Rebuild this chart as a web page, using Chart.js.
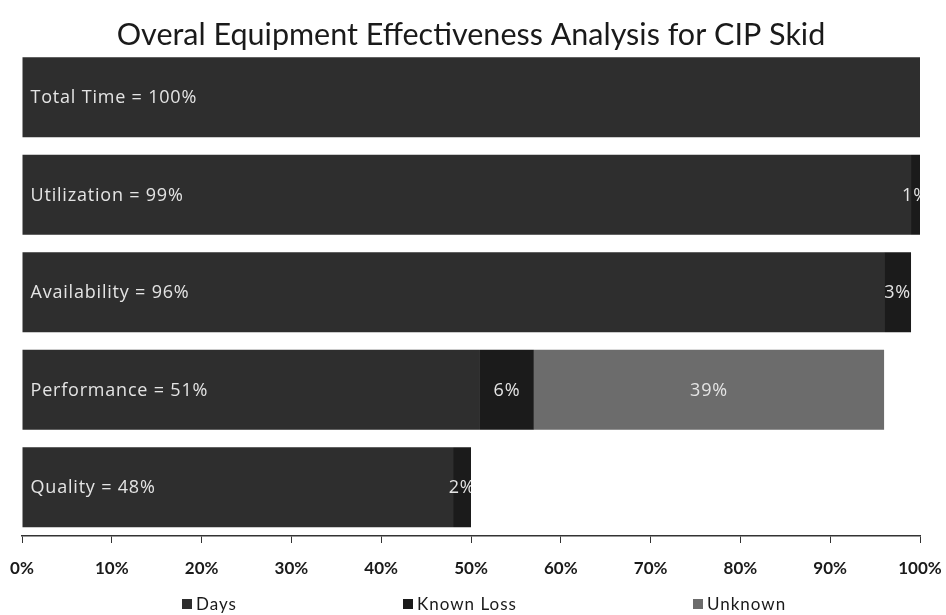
<!DOCTYPE html>
<html>
<head>
<meta charset="utf-8">
<title>Overal Equipment Effectiveness Analysis for CIP Skid</title>
<script src="https://cdn.jsdelivr.net/npm/chart.js@4/dist/chart.umd.min.js"></script>
<style>
  html, body { margin: 0; padding: 0; background: #ffffff; }
  #wrap { width: 946px; height: 615px; position: relative; }
</style>
</head>
<body>
<div id="wrap"><canvas id="oee"></canvas></div>
<script>
// Stages of the OEE breakdown, top to bottom
const categories = ['Total Time', 'Utilization', 'Availability', 'Performance', 'Quality'];

// Share of total time (%) for each part of every stage
const days      = [100, 99, 96, 51, 48];
const knownLoss = [null, 1, 3, 6, 2];
const unknown   = [null, null, null, 39, null];

const seriesNames = ['Days', 'Known Loss', 'Unknown'];
const xTicks = [0, 10, 20, 30, 40, 50, 60, 70, 80, 90, 100];

const FONT = 'Lato, "Open Sans", "Liberation Sans", sans-serif';
const LABEL_FONT = '"Open Sans", Lato, "Liberation Sans", sans-serif';
const fills = ['#2e2e2e', '#1b1b1b', '#6c6c6c'];

// Text inside the bars: stage name on the first segment, percentages on the others
const barLabels = {
  id: 'barLabels',
  afterDatasetsDraw(chart) {
    const ctx = chart.ctx;
    const area = chart.chartArea;
    ctx.save();
    ctx.font = '18px ' + LABEL_FONT;
    ctx.letterSpacing = '0.8px';
    ctx.fillStyle = '#e4e4e4';
    ctx.textBaseline = 'middle';
    chart.data.datasets.forEach((ds, di) => {
      const meta = chart.getDatasetMeta(di);
      meta.data.forEach((bar, i) => {
        const v = ds.data[i];
        if (v == null) return;
        const left = Math.min(bar.base, bar.x);
        const right = Math.max(bar.base, bar.x);
        if (di === 0) {
          ctx.textAlign = 'left';
          ctx.fillText(chart.data.labels[i] + ' = ' + v + '%', left + 8, bar.y + 1);
        } else {
          // centred on the segment, cut off where the bar ends
          ctx.save();
          ctx.beginPath();
          ctx.rect(area.left, bar.y - bar.height / 2, right - area.left, bar.height);
          ctx.clip();
          ctx.textAlign = 'center';
          ctx.fillText(v + '%', (left + right) / 2, bar.y + 1);
          ctx.restore();
        }
      });
    });
    ctx.letterSpacing = '0px';
    ctx.restore();
  }
};

// Legend row under the axis, items spread across the width
const spreadLegend = {
  id: 'spreadLegend',
  afterDraw(chart) {
    const ctx = chart.ctx;
    const xs = [182, 403, 693];
    const y = 604;
    ctx.save();
    ctx.font = '17px ' + FONT;
    ctx.letterSpacing = '1px';
    ctx.textBaseline = 'middle';
    ctx.textAlign = 'left';
    chart.data.datasets.forEach((ds, di) => {
      ctx.fillStyle = ds.backgroundColor;
      ctx.fillRect(xs[di], y - 5, 10, 10);
      ctx.fillStyle = '#1a1a1a';
      ctx.fillText(ds.label, xs[di] + 14, y + 1);
    });
    ctx.letterSpacing = '0px';
    ctx.restore();
  }
};

new Chart(document.getElementById('oee'), {
  type: 'bar',
  data: {
    labels: categories,
    datasets: [
      { label: seriesNames[0], data: days, backgroundColor: fills[0] },
      { label: seriesNames[1], data: knownLoss, backgroundColor: fills[1] },
      { label: seriesNames[2], data: unknown, backgroundColor: fills[2] }
    ]
  },
  options: {
    indexAxis: 'y',
    responsive: true,
    maintainAspectRatio: false,
    animation: false,
    datasets: {
      bar: { categoryPercentage: 1.0, barPercentage: 0.82, borderWidth: 0 }
    },
    layout: { padding: { left: 22, right: 26, top: 0, bottom: 36 } },
    plugins: {
      legend: { display: false },
      tooltip: { enabled: false },
      title: {
        display: true,
        text: 'Overal Equipment Effectiveness Analysis for CIP Skid',
        color: '#1a1a1a',
        font: { family: FONT, size: 30.5, weight: 'normal', lineHeight: 1.0 },
        padding: { top: 20, bottom: -2 }
      }
    },
    scales: {
      x: {
        stacked: true,
        min: 0,
        max: 100,
        afterBuildTicks(scale) {
          scale.ticks = xTicks.map(v => ({ value: v }));
        },
        // keep the plot edges set by the layout padding, and a compact axis band
        afterFit(scale) {
          scale.paddingLeft = 0;
          scale.paddingRight = 0;
          scale.height = 43;
        },
        ticks: {
          color: '#1a1a1a',
          padding: 15,
          maxRotation: 0,
          font: { family: FONT, size: 17, weight: 'bold' },
          callback: v => v + '%'
        },
        grid: {
          drawOnChartArea: false,
          drawTicks: true,
          tickLength: 7,
          color: '#333333'
        },
        border: { display: true, color: '#333333', width: 1.5 }
      },
      y: {
        stacked: true,
        display: false
      }
    }
  },
  plugins: [barLabels, spreadLegend]
});
</script>
</body>
</html>
